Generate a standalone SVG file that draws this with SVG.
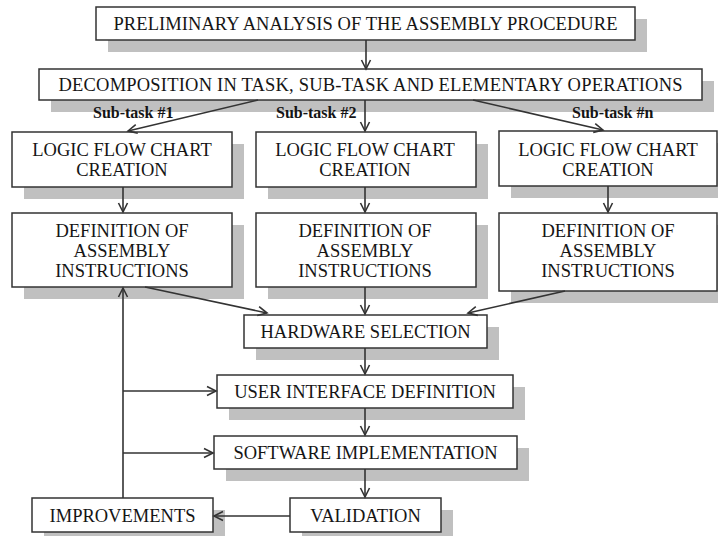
<svg xmlns="http://www.w3.org/2000/svg" width="718" height="536" viewBox="0 0 718 536">
<defs>
<marker id="ah" markerWidth="12" markerHeight="12" refX="10" refY="5" orient="auto" markerUnits="userSpaceOnUse" overflow="visible">
<path d="M1,0.5 L10,5 L1,9.5" fill="none" stroke="#333" stroke-width="1.6"/>
</marker>
</defs>
<style>
.sh{fill:#c0c0c0;}
.bx{fill:#fff;stroke:#333;stroke-width:1.5;}
.t{font-family:"Liberation Serif","Times New Roman",serif;font-size:18.5px;fill:#151515;text-anchor:middle;}
.lb{font-family:"Liberation Serif","Times New Roman",serif;font-size:16px;font-weight:bold;fill:#151515;}
.c{fill:none;stroke:#333;stroke-width:1.6;}
.a{marker-end:url(#ah);}
</style>
<rect width="718" height="536" fill="#fff"/>

<g id="n1">
<rect class="sh" x="108" y="19" width="539" height="33"/>
<rect class="bx" x="96" y="7" width="539" height="33"/>
<text class="t" x="365.5" y="30" textLength="504" lengthAdjust="spacing">PRELIMINARY ANALYSIS OF THE ASSEMBLY PROCEDURE</text>
</g>
<g id="n2">
<rect class="sh" x="51" y="81" width="663" height="31"/>
<rect class="bx" x="39" y="69" width="663" height="31"/>
<text class="t" x="370.5" y="91" textLength="624" lengthAdjust="spacing">DECOMPOSITION IN TASK, SUB-TASK AND ELEMENTARY OPERATIONS</text>
</g>
<g id="lfc1">
<rect class="sh" x="24" y="144" width="220" height="55"/>
<rect class="bx" x="12" y="132" width="220" height="55"/>
<text class="t" x="122" y="156">LOGIC FLOW CHART</text>
<text class="t" x="122" y="176">CREATION</text>
</g>
<g id="lfc2">
<rect class="sh" x="268" y="144" width="220" height="55"/>
<rect class="bx" x="256" y="132" width="220" height="55"/>
<text class="t" x="365" y="156">LOGIC FLOW CHART</text>
<text class="t" x="365" y="176">CREATION</text>
</g>
<g id="lfc3">
<rect class="sh" x="511" y="143" width="218" height="55"/>
<rect class="bx" x="499" y="131" width="218" height="55"/>
<text class="t" x="608" y="156">LOGIC FLOW CHART</text>
<text class="t" x="608" y="176">CREATION</text>
</g>
<g id="def1">
<rect class="sh" x="24" y="225" width="220" height="74"/>
<rect class="bx" x="12" y="213" width="220" height="74"/>
<text class="t" x="122" y="237">DEFINITION OF</text>
<text class="t" x="122" y="257">ASSEMBLY</text>
<text class="t" x="122" y="277">INSTRUCTIONS</text>
</g>
<g id="def2">
<rect class="sh" x="268" y="225" width="220" height="74"/>
<rect class="bx" x="256" y="213" width="220" height="74"/>
<text class="t" x="365" y="237">DEFINITION OF</text>
<text class="t" x="365" y="257">ASSEMBLY</text>
<text class="t" x="365" y="277">INSTRUCTIONS</text>
</g>
<g id="def3">
<rect class="sh" x="511" y="225" width="218" height="78"/>
<rect class="bx" x="499" y="213" width="218" height="78"/>
<text class="t" x="608" y="237">DEFINITION OF</text>
<text class="t" x="608" y="257">ASSEMBLY</text>
<text class="t" x="608" y="277">INSTRUCTIONS</text>
</g>
<g id="hw">
<rect class="sh" x="256" y="327" width="243" height="33"/>
<rect class="bx" x="244" y="315" width="243" height="33"/>
<text class="t" x="365.5" y="338">HARDWARE SELECTION</text>
</g>
<g id="ui">
<rect class="sh" x="229" y="387" width="296" height="33"/>
<rect class="bx" x="217" y="375" width="296" height="33"/>
<text class="t" x="365" y="398">USER INTERFACE DEFINITION</text>
</g>
<g id="sw">
<rect class="sh" x="226" y="448" width="303" height="33"/>
<rect class="bx" x="214" y="436" width="303" height="33"/>
<text class="t" x="365.5" y="459">SOFTWARE IMPLEMENTATION</text>
</g>
<g id="val">
<rect class="sh" x="302" y="510" width="151" height="34"/>
<rect class="bx" x="290" y="498" width="151" height="34"/>
<text class="t" x="365.5" y="522">VALIDATION</text>
</g>
<g id="imp">
<rect class="sh" x="44" y="510" width="181" height="34"/>
<rect class="bx" x="32" y="498" width="181" height="34"/>
<text class="t" x="122.5" y="522">IMPROVEMENTS</text>
</g>

<g id="connectors">
<line class="c a" x1="366" y1="40" x2="366" y2="69"/>
<line class="c a" x1="258" y1="100" x2="128" y2="131"/>
<line class="c a" x1="365" y1="100" x2="365" y2="131"/>
<line class="c a" x1="473" y1="100" x2="603" y2="130"/>
<line class="c a" x1="123" y1="187" x2="123" y2="212"/>
<line class="c a" x1="365" y1="187" x2="365" y2="212"/>
<line class="c a" x1="608" y1="186" x2="608" y2="212"/>
<line class="c a" x1="145" y1="287" x2="267" y2="313"/>
<line class="c a" x1="365" y1="287" x2="365" y2="314"/>
<line class="c a" x1="565" y1="291" x2="468" y2="313"/>
<line class="c a" x1="365" y1="348" x2="365" y2="374"/>
<line class="c a" x1="365" y1="408" x2="365" y2="435"/>
<line class="c a" x1="365" y1="469" x2="365" y2="497"/>
<line class="c a" x1="290" y1="516" x2="214" y2="516"/>
<line class="c a" x1="123" y1="498" x2="123" y2="288"/>
<line class="c a" x1="123" y1="391" x2="216" y2="391"/>
<line class="c a" x1="123" y1="453" x2="213" y2="453"/>
</g>

<g id="labels">
<text class="lb" x="93" y="118">Sub-task #1</text>
<text class="lb" x="276" y="118">Sub-task #2</text>
<text class="lb" x="572" y="118">Sub-task #n</text>
</g>
</svg>
